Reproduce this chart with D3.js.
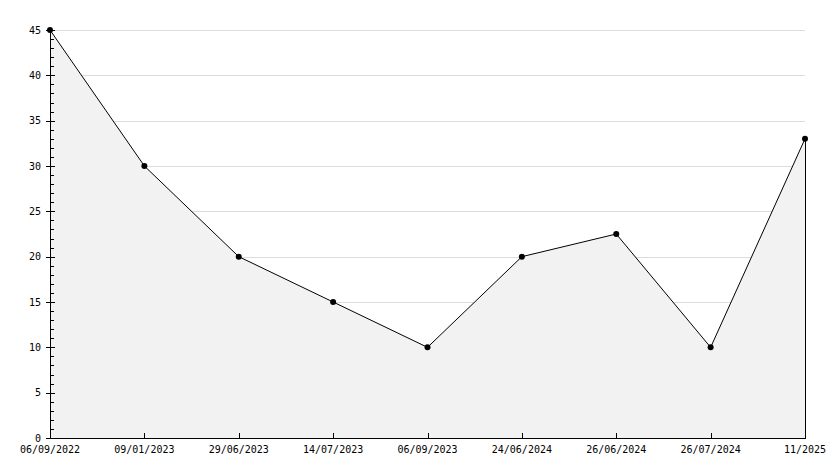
<!DOCTYPE html>
<html><head><meta charset="utf-8">
<script src="https://cdn.jsdelivr.net/npm/d3@7"></script>
<style>body{margin:0;background:#fff}svg{display:block}</style>
</head><body>
<script>
const categories = ["06/09/2022","09/01/2023","29/06/2023","14/07/2023","06/09/2023","24/06/2024","26/06/2024","26/07/2024","11/2025"];
const values = [45, 30, 20, 15, 10, 20, 22.5, 10, 33];
const yTicks = [0,5,10,15,20,25,30,35,40,45];

const W = 834, H = 468;
const mLeft = 50, mRight = 805, mTop = 30, mBottom = 438;
const FONT = "DejaVu Sans Mono";
const svg = d3.select("body").append("svg").attr("width", W).attr("height", H);

const x = d3.scalePoint().domain(categories).range([mLeft, mRight]);
const y = d3.scaleLinear().domain([0, 45]).range([mBottom, mTop]);

// gridlines
svg.append("g").selectAll("line").data(yTicks.filter(d => d > 0)).join("line")
  .attr("x1", mLeft).attr("x2", mRight)
  .attr("y1", d => Math.round(y(d)) + 0.5).attr("y2", d => Math.round(y(d)) + 0.5)
  .attr("stroke", "#dcdcdc").attr("stroke-width", 1);

const data = categories.map((c, i) => ({c, v: values[i]}));

// area
svg.append("path").datum(data)
  .attr("d", d3.area().x(d => x(d.c)).y0(y(0)).y1(d => y(d.v)))
  .attr("fill", "#f2f2f2");

// right edge of area
const lastX = x(categories[categories.length-1]);
svg.append("line")
  .attr("x1", lastX + 0.5).attr("x2", lastX + 0.5)
  .attr("y1", y(values[values.length-1])).attr("y2", mBottom)
  .attr("stroke", "#000");

// line
svg.append("path").datum(data)
  .attr("d", d3.line().x(d => x(d.c)).y(d => y(d.v)))
  .attr("fill", "none").attr("stroke", "#000").attr("stroke-width", 1);

// y axis
const minor = d3.range(0, 46, 1).filter(d => d % 5 !== 0);
svg.append("g").selectAll("line").data(minor).join("line")
  .attr("x1", mLeft).attr("x2", mLeft + 4)
  .attr("y1", d => Math.round(y(d)) + 0.5).attr("y2", d => Math.round(y(d)) + 0.5)
  .attr("stroke", "#000");
svg.append("g").selectAll("line").data(yTicks).join("line")
  .attr("x1", mLeft - 4).attr("x2", mLeft + 5)
  .attr("y1", d => Math.round(y(d)) + 0.5).attr("y2", d => Math.round(y(d)) + 0.5)
  .attr("stroke", "#000");
svg.append("line").attr("x1", mLeft + 0.5).attr("x2", mLeft + 0.5).attr("y1", mTop).attr("y2", mBottom + 0.5).attr("stroke", "#000");
svg.append("g").selectAll("text").data(yTicks).join("text")
  .attr("x", 41).attr("y", d => y(d)).attr("dy", "0.35em")
  .attr("text-anchor", "end")
  .attr("font-family", FONT).attr("font-size", 10).attr("fill", "#000")
  .text(d => d);

// x axis
svg.append("line").attr("x1", mLeft).attr("x2", mRight + 1).attr("y1", mBottom + 0.5).attr("y2", mBottom + 0.5).attr("stroke", "#000");
svg.append("g").selectAll("line").data(categories.slice(1, -1)).join("line")
  .attr("x1", d => Math.round(x(d)) + 0.5).attr("x2", d => Math.round(x(d)) + 0.5)
  .attr("y1", mBottom - 5).attr("y2", mBottom)
  .attr("stroke", "#000");
svg.append("g").selectAll("text").data(categories).join("text")
  .attr("x", d => x(d)).attr("y", 453)
  .attr("text-anchor", "middle")
  .attr("font-family", FONT).attr("font-size", 10).attr("fill", "#000")
  .text(d => d);

// markers
svg.append("g").selectAll("circle").data(data).join("circle")
  .attr("cx", d => x(d.c)).attr("cy", d => y(d.v)).attr("r", 3)
  .attr("fill", "#000");
</script>
</body></html>
